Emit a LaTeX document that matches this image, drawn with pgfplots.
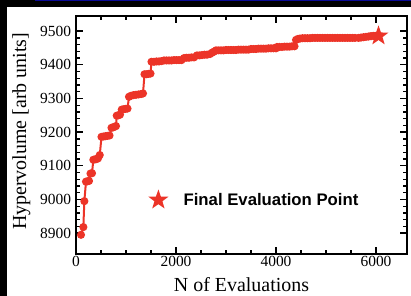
\documentclass[border=0pt]{standalone}
\usepackage{pgfplots}
\pgfplotsset{compat=1.18}
\usepackage{fontspec}
\setmainfont{Liberation Serif}
\newfontfamily\legfont{Liberation Sans}
\definecolor{hvred}{RGB}{236,52,40}
\definecolor{slideblue}{RGB}{10,10,150}
\pgfdeclareplotmark{fstar}{%
  \pgfpathmoveto{\pgfpointpolar{90}{\pgfplotmarksize}}%
  \pgfpathlineto{\pgfpointpolar{126}{0.4\pgfplotmarksize}}%
  \pgfpathlineto{\pgfpointpolar{162}{\pgfplotmarksize}}%
  \pgfpathlineto{\pgfpointpolar{198}{0.4\pgfplotmarksize}}%
  \pgfpathlineto{\pgfpointpolar{234}{\pgfplotmarksize}}%
  \pgfpathlineto{\pgfpointpolar{270}{0.4\pgfplotmarksize}}%
  \pgfpathlineto{\pgfpointpolar{306}{\pgfplotmarksize}}%
  \pgfpathlineto{\pgfpointpolar{342}{0.4\pgfplotmarksize}}%
  \pgfpathlineto{\pgfpointpolar{18}{\pgfplotmarksize}}%
  \pgfpathlineto{\pgfpointpolar{54}{0.4\pgfplotmarksize}}%
  \pgfpathclose
  \pgfusepathqfill
}
\begin{document}
\begin{tikzpicture}
\path[use as bounding box] (0,0) rectangle (411bp,296bp);
\fill[black] (0,0) rectangle (411bp,296bp);
\fill[white] (7bp,0) rectangle (411bp,289bp);
\fill[slideblue] (35bp,294.5bp) rectangle (411bp,296bp);
\begin{axis}[
  at={(76bp,42bp)}, anchor=south west,
  scale only axis, width=331bp, height=238bp,
  xmin=0, xmax=6620, ymin=8838, ymax=9545,
  xtick={0,2000,4000,6000}, minor x tick num=3,
  xticklabels={0,2000,4000,6000},
  ytick={8900,9000,9100,9200,9300,9400,9500}, minor y tick num=4,
  yticklabels={8900,9000,9100,9200,9300,9400,9500},
  tick align=inside, ticks=both,
  xtick pos=both, ytick pos=both,
  major tick length=7bp, minor tick length=4bp,
  axis line style={line width=1.6bp, black},
  tick style={line width=1.3bp, black},
  tick label style={font=\rmfamily\fontsize{15.5}{17}\selectfont},
  xticklabel style={yshift=1bp},
  yticklabel style={xshift=-1.5bp},
  xlabel={N of Evaluations},
  ylabel={Hypervolume [arb units]},
  every axis x label/.style={at={(axis description cs:0.5,-0.158)}, anchor=base, font=\rmfamily\fontsize{20}{24}\selectfont},
  every axis y label/.style={at={(axis description cs:-0.165,0.515)}, rotate=90, anchor=center, font=\rmfamily\fontsize{20}{24}\selectfont},
  legend style={at={(axis cs:1440,9001)}, anchor=west, draw=none, fill=none, inner sep=0pt,
    font=\legfont\bfseries\fontsize{16.8}{19}\selectfont},
  legend image code/.code={\draw[#1] plot coordinates {(10bp,0bp)}; \path (0bp,0bp) (33bp,0bp);},
]
\addplot[hvred, line width=2bp, mark=*, mark size=3bp, mark options={fill=hvred, draw=hvred}, forget plot] coordinates {
(100,8895) (147,8918) (167,8995)
(200,9053) (230,9054) (260,9055)
(290,9077) (320,9078)
(347,9118) (380,9119) (410,9120) (440,9122) (475,9132)
(510,9186) (550,9187) (590,9188) (630,9189) (670,9190)
(710,9213) (740,9214) (770,9216) (800,9218)
(815,9249) (850,9250) (880,9252)
(915,9267) (950,9268) (990,9269) (1030,9270)
(1060,9305) (1100,9308) (1150,9310) (1200,9311) (1250,9312) (1300,9313) (1340,9315)
(1370,9372) (1410,9372) (1450,9373) (1490,9374)
(1510,9409) (1560,9409) (1610,9410) (1660,9410) (1710,9411)
(1760,9413) (1810,9413) (1860,9413) (1910,9413) (1960,9414) (2010,9414) (2060,9414) (2110,9414)
(2160,9420) (2210,9421) (2260,9421) (2310,9422) (2360,9422)
(2420,9428) (2470,9428) (2520,9429) (2570,9430) (2620,9430)
(2680,9432) (2720,9436) (2760,9439) (2800,9443)
(2850,9443) (2900,9443) (2950,9443) (3000,9444) (3050,9444) (3100,9444) (3150,9444) (3200,9444) (3250,9445) (3300,9445) (3350,9445) (3400,9445) (3450,9445)
(3500,9447) (3550,9447) (3600,9447) (3650,9448) (3700,9448) (3750,9448) (3800,9448) (3850,9449) (3900,9449) (3950,9449) (4000,9449)
(4020,9453) (4070,9453) (4120,9453) (4170,9454) (4220,9454) (4270,9454) (4320,9455) (4370,9455)
(4400,9474) (4440,9477) (4480,9478) (4530,9479) (4580,9479) (4630,9479) (4680,9479) (4730,9480) (4780,9480) (4830,9480) (4880,9480) (4930,9480) (4980,9480) (5030,9480) (5080,9480) (5130,9480) (5180,9480) (5230,9480) (5280,9480) (5330,9480) (5380,9480) (5430,9480) (5480,9480) (5530,9480) (5580,9480)
(5650,9480) (5700,9481) (5750,9482) (5800,9483) (5850,9484) (5900,9485) (5950,9486) (6000,9486) (6050,9487)
};
\addplot[only marks, mark=fstar, mark size=10.5bp, hvred, mark options={fill=hvred}] coordinates {(6050,9486)};
\addlegendentry{Final Evaluation Point}
\end{axis}
\end{tikzpicture}
\end{document}
